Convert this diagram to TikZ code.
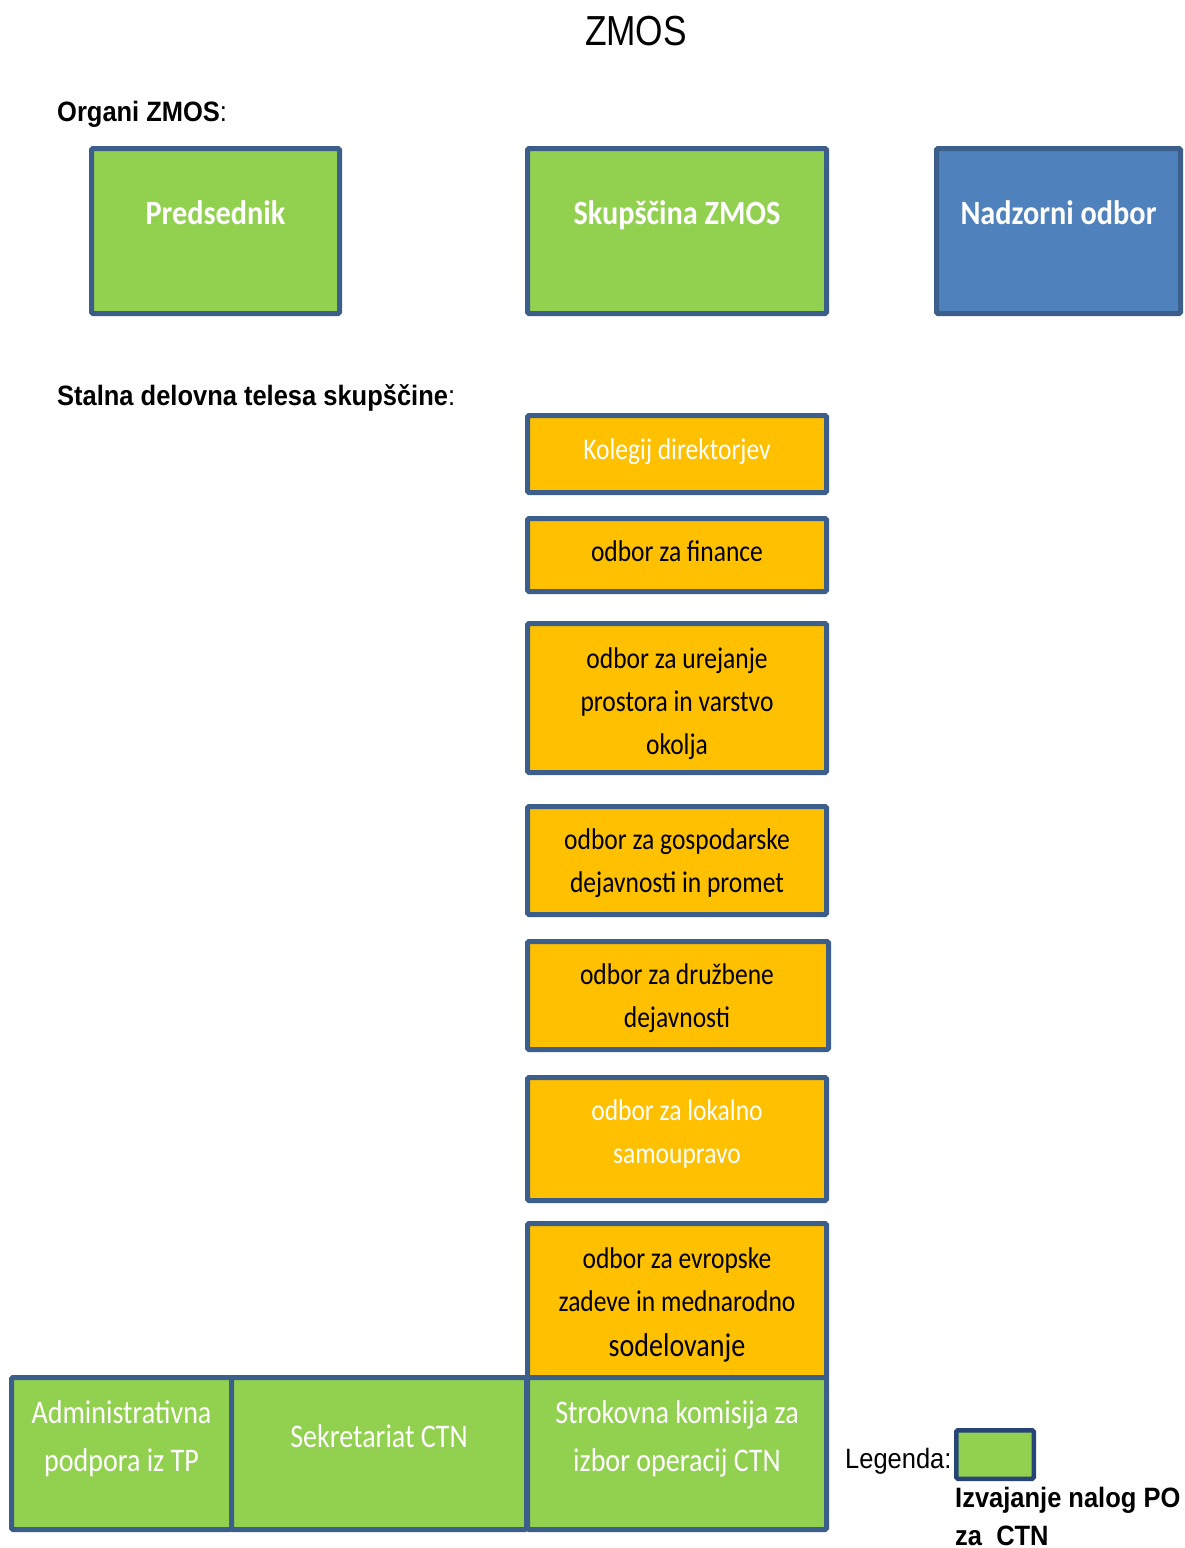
\documentclass[tikz,border=0pt]{standalone}
\usepackage{fontspec}
\setmainfont{Carlito}
\newfontfamily\calf[FakeStretch=0.85]{Carlito}
\newfontfamily\calbf[FakeStretch=0.89]{Carlito}
\newfontfamily\hdrf[FakeStretch=0.91]{Liberation Sans}
\newfontfamily\ttlf[FakeStretch=0.84]{Liberation Sans}
\definecolor{bordc}{RGB}{60,94,138}
\definecolor{legb}{RGB}{38,68,118}
\definecolor{grn}{RGB}{146,208,80}
\definecolor{org}{RGB}{255,192,0}
\definecolor{blu}{RGB}{79,129,189}
\begin{document}
\begin{tikzpicture}[x=1pt,y=-1pt,
  box/.style={draw=bordc,line width=5pt,rounded corners=1.5pt,anchor=north west,inner sep=0pt},
  gbox/.style={box,fill=grn},
  obox/.style={box,fill=org},
  big/.style={inner sep=0pt,anchor=base,text=white,font=\calbf\bfseries\fontsize{34}{40}\selectfont},
  txt/.style={inner sep=0pt,anchor=base,align=center,font=\calf\fontsize{30}{43}\selectfont},
  btxt/.style={inner sep=0pt,anchor=base,align=center,text=white,font=\calf\fontsize{33}{48}\selectfont},
  hdr/.style={inner sep=0pt,anchor=base west,font=\hdrf\fontsize{28}{34}\selectfont}]
\useasboundingbox (0,0) rectangle (1184,1548);

% title and headings
\node[inner sep=0pt,anchor=base,font=\ttlf\fontsize{42}{48}\selectfont] (title) at (636,45) {ZMOS};
\node[hdr] (h1) at (57,121) {\bfseries Organi ZMOS\mdseries:};
\node[hdr] (h2) at (57,405) {\bfseries Stalna delovna telesa skupščine\mdseries:};

% organs
\node[gbox,minimum width=248pt,minimum height=165pt] (pred) at (89,146) {};
\node[gbox,minimum width=299pt,minimum height=165pt] (skup) at (525,146) {};
\node[box,fill=blu,minimum width=244pt,minimum height=165pt] (nadz) at (934,146) {};
\node[big] (tpred) at (215.5,224) {Predsednik};
\node[big] (tskup) at (677,224) {Skupščina ZMOS};
\node[big] (tnadz) at (1058.5,224) {Nadzorni odbor};

% working bodies
\node[obox,minimum width=299pt,minimum height=77pt] (kol) at (525,413) {};
\node[obox,minimum width=299pt,minimum height=73pt] (fin) at (525,516) {};
\node[obox,minimum width=299pt,minimum height=149pt] (ure) at (525,621) {};
\node[obox,minimum width=299pt,minimum height=108pt] (gos) at (525,804) {};
\node[obox,minimum width=301pt,minimum height=108pt] (dru) at (525,939) {};
\node[obox,minimum width=299pt,minimum height=123pt] (lok) at (525,1075) {};
\node[obox,minimum width=299pt,minimum height=154pt] (evr) at (525,1221) {};

\node[txt,text=white] (tkol) at (677,459) {Kolegij direktorjev};
\node[txt] (tfin) at (677,561) {odbor za finance};
\node[txt] (ture) at (677,754) {odbor za urejanje\\prostora in varstvo\\okolja};
\node[txt] (tgos) at (677,892) {odbor za gospodarske\\dejavnosti in promet};
\node[txt] (tdru) at (677,1027) {odbor za družbene\\dejavnosti};
\node[txt,text=white] (tlok) at (677,1163) {odbor za lokalno\\samoupravo};
\node[txt] (tevr) at (677,1356) {odbor za evropske\\zadeve in mednarodno\\[2pt]{\fontsize{33}{43}\selectfont sodelovanje}};

% CTN row
\node[gbox,minimum width=220pt,minimum height=152pt] (adm) at (9,1375) {};
\node[gbox,minimum width=295pt,minimum height=152pt] (sek) at (229,1375) {};
\node[gbox,minimum width=299pt,minimum height=152pt] (str) at (525,1375) {};
\node[btxt] (tadm) at (121.5,1471) {Administrativna\\podpora iz TP};
\node[btxt] (tsek) at (379,1447) {Sekretariat CTN};
\node[btxt] (tstr) at (677,1471) {Strokovna komisija za\\izbor operacij CTN};

% legend
\node[hdr] (leg) at (845,1468) {Legenda:};
\node[box,draw=legb,line width=4.5pt,fill=grn,minimum width=77.5pt,minimum height=48.5pt] (legbox) at (954,1428) {};
\node[hdr] (legt) at (955,1507) {\bfseries Izvajanje nalog PO};
\node[hdr] (legt2) at (955,1545) {\bfseries za\ \ CTN};
\end{tikzpicture}
\end{document}
